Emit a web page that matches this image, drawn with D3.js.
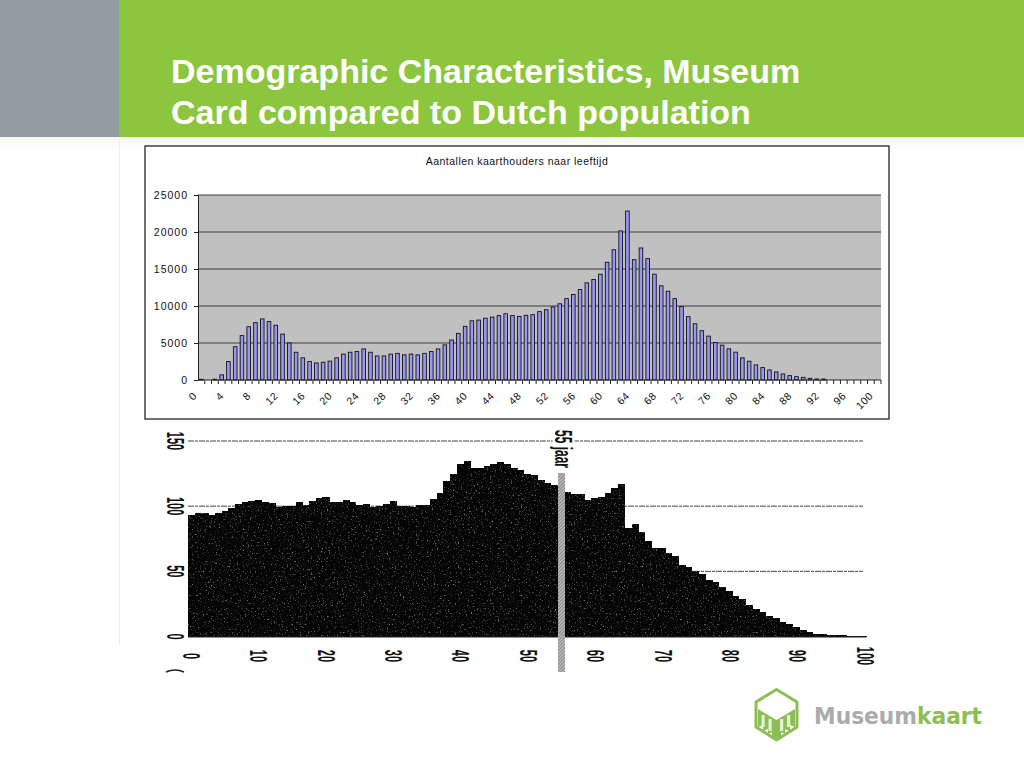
<!DOCTYPE html>
<html><head><meta charset="utf-8">
<script src="https://cdnjs.cloudflare.com/ajax/libs/d3/7.8.5/d3.min.js"></script>
<style>html,body{margin:0;padding:0;background:#fff;overflow:hidden}svg{display:block}text{font-family:"Liberation Sans",Arial,sans-serif}</style>
</head><body><svg id="c" width="1024" height="768"></svg>
<script>
const titleLines = ["Demographic Characteristics, Museum","Card compared to Dutch population"];
const topTitle = "Aantallen kaarthouders naar leeftijd";
const topTicks = [0,5000,10000,15000,20000,25000];
const ages = d3.range(0,101);
const cardholders = [100,0,100,700,2500,4500,6000,7200,7750,8250,7900,7400,6200,5000,3750,3000,2500,2300,2400,2550,3000,3500,3750,3850,4200,3750,3250,3250,3500,3600,3400,3500,3400,3600,3850,4200,4750,5400,6300,7250,8000,8100,8350,8500,8700,8950,8700,8600,8740,8830,9240,9500,9870,10300,11000,11550,12230,13130,13590,14300,15900,17600,20150,22830,16260,17840,16400,14300,12730,12000,11000,9920,8560,7600,6660,5930,5070,4710,4210,3760,2990,2540,2040,1680,1360,1090,815,590,450,360,230,135,135,0,0,0,0,0,0,0,0];
const popIndex = [93,95,95,93.5,95,96,98.5,102,103,104,105,103,102.5,99,100,100,103,101,104,106,107,103,103,105,103,101,101.5,99,100,101.5,104,100,100,99.5,101,101,105.5,110,119,125,132,135,129,129,131,132,134,132,129,127.6,125,124,120,117.6,116,113,110.5,109,109,105,106,107,110,114,117,83,86,80,73,68,68,64,61.6,55,53,50,47.6,43.5,42,38,35,31,28.6,24,21,18.7,16,14,11.5,9.5,7.4,5,3.3,2.3,2.3,1.2,1.2,1.2,.7,.7,.7];
const bottomYTicks = [0,50,100,150];
const bottomXTicks = [0,10,20,30,40,50,60,70,80,90,100];
const markerAge = 55, markerLabel = "55 jaar";
const logoWords = ["Museum","kaart"];

const svg = d3.select("#c");
const defs = svg.append("defs");
const grad = defs.append("linearGradient").attr("id","shade").attr("x1",0).attr("x2",0).attr("y1",0).attr("y2",1);
grad.append("stop").attr("offset",0).attr("stop-color","#f6f6f1");
grad.append("stop").attr("offset",1).attr("stop-color","#ffffff");
const f = defs.append("filter").attr("id","speck").attr("x",0).attr("y",0).attr("width","100%").attr("height","100%").attr("color-interpolation-filters","sRGB");
f.append("feTurbulence").attr("type","fractalNoise").attr("baseFrequency",0.62).attr("numOctaves",2).attr("seed",4).attr("result","n");
f.append("feColorMatrix").attr("in","n").attr("type","matrix").attr("values","0 0 0 0 .5  0 0 0 0 .5  0 0 0 0 .5  4 0 0 0 -2.4").attr("result","s");
f.append("feComposite").attr("in","s").attr("in2","SourceAlpha").attr("operator","in").attr("result","sp");
const fm = f.append("feMerge");
fm.append("feMergeNode").attr("in","SourceGraphic");
fm.append("feMergeNode").attr("in","sp");
const hat = defs.append("pattern").attr("id","hatch").attr("width",2.4).attr("height",2.4).attr("patternUnits","userSpaceOnUse").attr("patternTransform","rotate(45)");
hat.append("rect").attr("width",2.4).attr("height",2.4).attr("fill","#bdbdbd");
hat.append("rect").attr("width",1).attr("height",2.4).attr("fill","#858585");

// slide furniture
svg.append("rect").attr("x",0).attr("y",137).attr("width",1024).attr("height",14).attr("fill","url(#shade)");
svg.append("rect").attr("x",119).attr("y",137).attr("width",1).attr("height",508).attr("fill","#efefe6");
svg.append("rect").attr("x",0).attr("y",0).attr("width",119).attr("height",137).attr("fill","#939ba5");
svg.append("rect").attr("x",119).attr("y",0).attr("width",905).attr("height",137).attr("fill","#8cc63f");
svg.selectAll("text.t").data(titleLines).join("text").attr("class","t")
  .attr("x",171).attr("y",(d,i)=>83+i*41).attr("fill","#fff").attr("font-size",34).attr("font-weight","bold").text(d=>d);

// top chart
svg.append("rect").attr("x",145).attr("y",146).attr("width",744).attr("height",273).attr("fill","#fff").attr("stroke","#111").attr("stroke-width",1.2);
svg.append("text").attr("x",517).attr("y",165).attr("text-anchor","middle").attr("font-size",10.5).attr("letter-spacing",0.48).attr("fill","#111").text(topTitle);
const xT = d3.scaleBand().domain(ages).range([198,881]).paddingInner(0.47).paddingOuter(0.235);
const yT = d3.scaleLinear().domain([0,25000]).range([380,195]);
svg.append("rect").attr("x",198).attr("y",195).attr("width",683).attr("height",185).attr("fill","#c0c0c0");
svg.append("g").selectAll("line").data(topTicks.slice(1)).join("line")
  .attr("x1",198).attr("x2",881).attr("y1",d=>yT(d)).attr("y2",d=>yT(d)).attr("stroke","#3c3c3c").attr("stroke-width",1);
svg.append("g").selectAll("rect").data(cardholders.map((v,i)=>[ages[i],v]).filter(d=>d[1]>0)).join("rect")
  .attr("x",d=>xT(d[0])).attr("y",d=>yT(d[1])).attr("width",xT.bandwidth()).attr("height",d=>yT(0)-yT(d[1]))
  .attr("fill","#9999f0").attr("stroke","#101020").attr("stroke-width",0.9);
const axL = svg.append("g").attr("transform","translate(198,0)").call(d3.axisLeft(yT).tickValues(topTicks).tickSize(4).tickPadding(6).tickFormat(d3.format("d")));
axL.selectAll("text").attr("font-size",10.5).attr("letter-spacing",1).attr("fill","#111");
axL.selectAll("path,line").attr("stroke","#222");
const step = xT.step();
const axB = svg.append("g").attr("transform","translate(0,380)").call(d3.axisBottom(xT).tickValues(ages).tickSize(4).tickFormat(""));
axB.select("path").attr("stroke","#222").attr("d","M198,0H881");
axB.selectAll("line").attr("stroke","#222").attr("transform",`translate(${step/2},0)`);
svg.append("g").selectAll("text").data(ages.filter(d=>d%4===0)).join("text")
  .attr("transform",d=>`translate(${xT(d)+xT.bandwidth()/2-6.5},394) rotate(-45)`)
  .attr("text-anchor","end").attr("dy","0.35em").attr("font-size",10.5).attr("letter-spacing",0.5).attr("fill","#111").text(d=>d);

// bottom chart
const xB = d3.scaleBand().domain(ages).range([188,188+6.72*101]);
const xBL = d3.scaleLinear().domain([0,100]).range([188,862]);
const yB = d3.scaleLinear().domain([0,150]).range([636.5,441]);
svg.append("g").selectAll("line").data(bottomYTicks.slice(1)).join("line")
  .attr("x1",188).attr("x2",863).attr("y1",d=>yB(d)).attr("y2",d=>yB(d))
  .attr("stroke","#444").attr("stroke-width",1).attr("stroke-dasharray","6 1 3 1");
svg.append("g").attr("filter","url(#speck)").selectAll("rect").data(popIndex.map((v,i)=>[ages[i],v])).join("rect")
  .attr("x",d=>xB(d[0])).attr("y",d=>yB(d[1])).attr("width",xB.bandwidth()+0.4).attr("height",d=>yB(0)-yB(d[1]))
  .attr("fill","#050505").attr("shape-rendering","crispEdges");
svg.append("line").attr("x1",188).attr("x2",866).attr("y1",yB(0)+.5).attr("y2",yB(0)+.5).attr("stroke","#222").attr("stroke-width",1);
const numStyle = s => s.attr("font-size",24).attr("font-weight","bold").attr("fill","#111").attr("text-anchor","middle");
svg.append("g").selectAll("text").data(bottomYTicks).join("text").call(numStyle)
  .attr("transform",d=>`translate(167,${yB(d)}) rotate(90) scale(.46,1)`).text(d=>d);
svg.append("g").selectAll("text").data(bottomXTicks).join("text").call(numStyle)
  .attr("transform",d=>`translate(${xBL(d)+3.5},656) rotate(90) scale(.46,1)`).attr("dy",8.6).text(d=>d);
svg.append("rect").attr("x",xB(markerAge)+0.4).attr("y",473).attr("width",7).attr("height",199).attr("fill","url(#hatch)");
svg.append("text").attr("transform",`translate(${xB(markerAge)+5},449) rotate(90) scale(.52,1)`).attr("text-anchor","middle")
  .attr("font-size",23).attr("font-weight","bold").attr("fill","#111").attr("stroke","#fff").attr("stroke-width",5).attr("paint-order","stroke").attr("dy",8).text(markerLabel);
svg.append("path").attr("d","M166,672Q175,668 184,672").attr("fill","none").attr("stroke","#222").attr("stroke-width",1.6);

// logo
const green="#8dbd55";
const lg = svg.append("g");
lg.append("path").attr("d","M756,702L776.5,689.5L797,702V727L776.5,740L756,727Z").attr("fill","#fff").attr("stroke",green).attr("stroke-width",3).attr("stroke-linejoin","round");
lg.append("path").attr("d","M758,709L776.5,720L795,709V727L790,725V731L785,729V734L781,732V737L776.5,740L772,737V732L768,734V729L763,731V725L758,727Z").attr("fill",green);
lg.selectAll("rect.c").data([761.5,768.5,780,787]).join("rect").attr("class","c").attr("x",d=>d).attr("y",(d,i)=>[715,719,719,715][i]).attr("width",3.2).attr("height",12).attr("fill","#e4f0d4");
const lt = svg.append("text").attr("x",814).attr("y",723.5).attr("font-size",22.5).attr("font-weight","bold").attr("textLength",168).attr("lengthAdjust","spacingAndGlyphs").style("font-family","'DejaVu Sans'");
lt.append("tspan").attr("fill","#ababab").text(logoWords[0]);
lt.append("tspan").attr("fill",green).text(logoWords[1]);
</script></body></html>
